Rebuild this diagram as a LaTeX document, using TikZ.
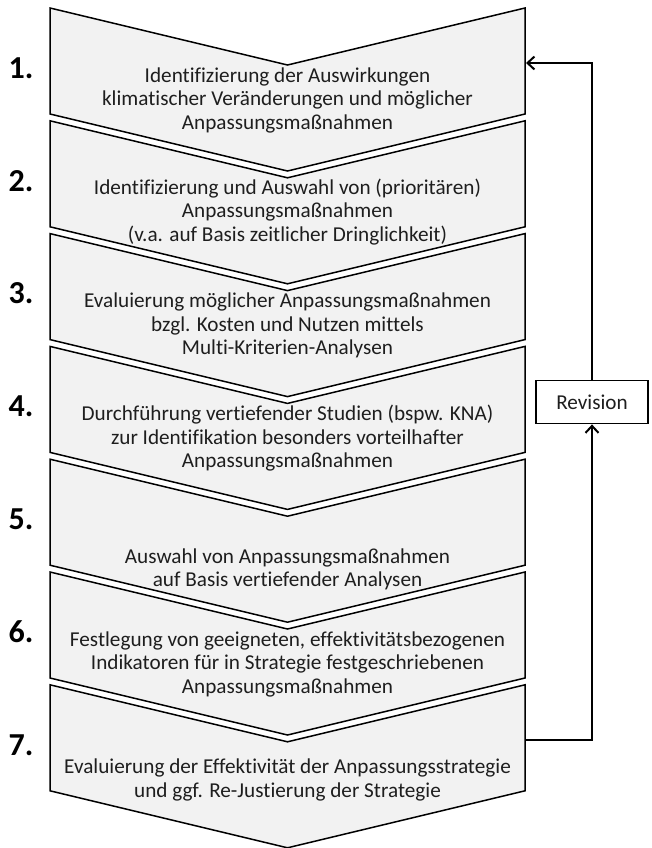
\documentclass[tikz,border=0pt]{standalone}
\usepackage{fontspec}
\setmainfont{Carlito}[Ligatures=NoCommon]
\usetikzlibrary{arrows.meta}
\definecolor{chevfill}{RGB}{242,242,242}
\definecolor{txtgray}{RGB}{30,30,30}
\begin{document}
\begin{tikzpicture}[x=1pt,y=-1pt,>={Straight Barb[length=7pt,width=13pt]},
  chev/.style={draw=black,line width=1.5pt,fill=chevfill,line join=miter},
  stepno/.style={font=\fontsize{32}{34}\selectfont\bfseries,text=black},
  steptext/.style={align=center,font=\fontsize{21.2}{23.5}\selectfont,text=txtgray},
  revbox/.style={draw,line width=1.8pt,fill=white,minimum width=112pt,minimum height=43pt,font=\fontsize{21.2}{23.5}\selectfont,text=txtgray},
  link/.style={line width=2pt}]
\useasboundingbox (0,0) rectangle (651,848);
% stacked chevrons, top corner y given
\foreach \t in {8,120.8,233.6,346.4,459.2,572,684.8}{
  \draw[chev] (50,\t) -- (287.5,\t+57) -- (525,\t) -- (525,\t+106) -- (287.5,\t+163) -- (50,\t+106) -- cycle;}
% step numbers
\foreach \n/\y in {1/68,2/180.8,3/293.6,4/406.4,5/519.2,6/632,7/744.8}{\node[stepno] (n\n) at (21,\y) {\n.};}
% step texts
\node[steptext] (s1) at (287.5,100) {Identifizierung der Auswirkungen\\klimatischer Veränderungen und möglicher\\Anpassungsmaßnahmen};
\node[steptext] (s2) at (287.5,211.8) {Identifizierung und Auswahl von (prioritären)\\Anpassungsmaßnahmen\\(v.a. auf Basis zeitlicher Dringlichkeit)};
\node[steptext] (s3) at (287.5,325.6) {Evaluierung möglicher Anpassungsmaßnahmen\\bzgl. Kosten und Nutzen mittels\\Multi-Kriterien-Analysen};
\node[steptext] (s4) at (287.5,438.4) {Durchführung vertiefender Studien (bspw. KNA)\\zur Identifikation besonders vorteilhafter\\Anpassungsmaßnahmen};
\node[steptext] (s5) at (287.5,569.2) {Auswahl von Anpassungsmaßnahmen\\auf Basis vertiefender Analysen};
\node[steptext] (s6) at (287.5,664) {Festlegung von geeigneten, effektivitätsbezogenen\\Indikatoren für in Strategie festgeschriebenen\\Anpassungsmaßnahmen};
\node[steptext] (s7) at (287.5,779.8) {Evaluierung der Effektivität der Anpassungsstrategie\\und ggf. Re-Justierung der Strategie};
% feedback loop
\node[revbox] (rev) at (592,402) {Revision};
\coordinate (c1e) at (526,63);
\coordinate (c7e) at (525,740);
\draw[link,->] (c7e) -| (rev.south);
\draw[link,->] (rev.north) |- (c1e);
\end{tikzpicture}
\end{document}
